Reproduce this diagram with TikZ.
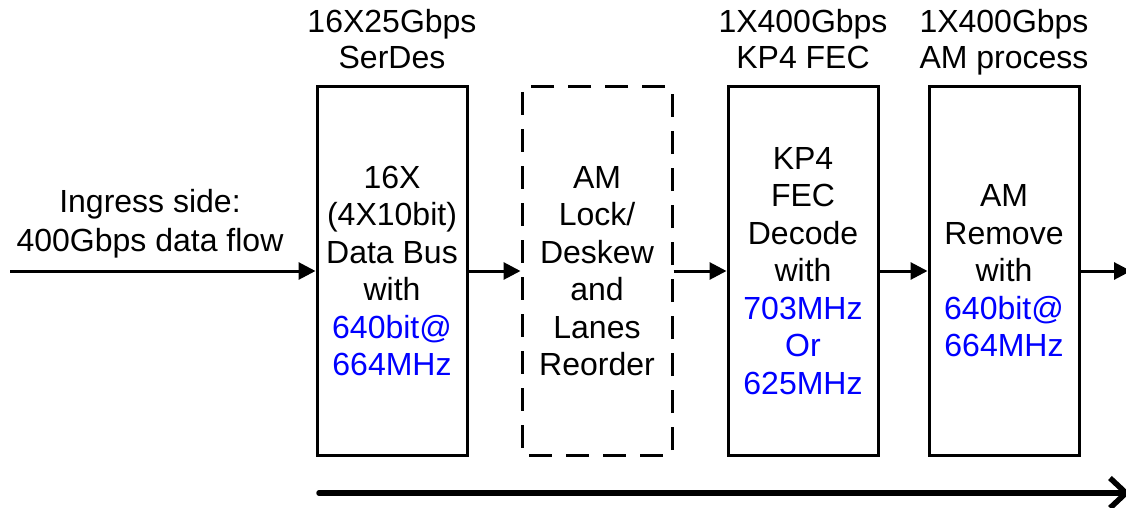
\documentclass[tikz,border=0pt]{standalone}
\usepackage{fontspec}
\setmainfont{Liberation Sans}
\usetikzlibrary{arrows.meta,positioning}

\begin{document}
\begin{tikzpicture}[x=1pt, y=-1pt,
  blk/.style={draw, line width=3pt, minimum width=150pt, minimum height=368pt,
              align=center, inner sep=0pt, font=\fontsize{32}{37.5}\selectfont},
  dblk/.style={blk, dash pattern=on 23pt off 14pt, dash phase=-7pt},
  hd/.style={align=center, inner sep=0pt, text depth=0pt,
             font=\fontsize{32}{36}\selectfont},
  ar/.style={-{Triangle[length=17pt, width=17pt]}, line width=3pt},
  flow/.style={-{Straight Barb[length=16pt, width=30pt]}, line width=5.5pt,
               line cap=round},
  node distance=52pt
]
  \useasboundingbox (0,0) rectangle (1126,508);

  \node[blk] (serdes) at (392,271)
    {16X\\(4X10bit)\\Data Bus\\with\\\textcolor{blue}{640bit@}\\\textcolor{blue}{664MHz}};
  \node[dblk, right=52pt of serdes] (deskew)
    {AM\\Lock/\\Deskew\\and\\Lanes\\Reorder};
  \node[blk, right=53pt of deskew] (fec)
    {KP4\\FEC\\Decode\\with\\\textcolor{blue}{703MHz}\\\textcolor{blue}{Or}\\\textcolor{blue}{625MHz}};
  \node[blk, right=48pt of fec] (amrm)
    {AM\\Remove\\with\\\textcolor{blue}{640bit@}\\\textcolor{blue}{664MHz}};

  \node[hd, above=17pt of serdes] (serdeshd) {16X25Gbps\\SerDes};
  \node[hd, above=17pt of fec] (fechd) {1X400Gbps\\KP4 FEC};
  \node[hd, above=17pt of amrm] (amrmhd) {1X400Gbps\\AM process};

  \coordinate (ingress) at (10,271);
  \coordinate (egress) at (1131,271);
  \node[hd, anchor=south, font=\fontsize{32}{39}\selectfont] (ingresshd) at (150,252)
    {Ingress side:\\400Gbps data flow};

  \draw[ar] (ingress) -- (serdes);
  \draw[ar] (serdes) -- (deskew);
  \draw[ar] (deskew) -- (fec);
  \draw[ar] (fec) -- (amrm);
  \draw[ar] (amrm) -- (egress);

  % data direction
  \coordinate (flowL) at (319,493);
  \coordinate (flowR) at (1130,493);
  \draw[flow] (flowL) -- (flowR);

\end{tikzpicture}
\end{document}
